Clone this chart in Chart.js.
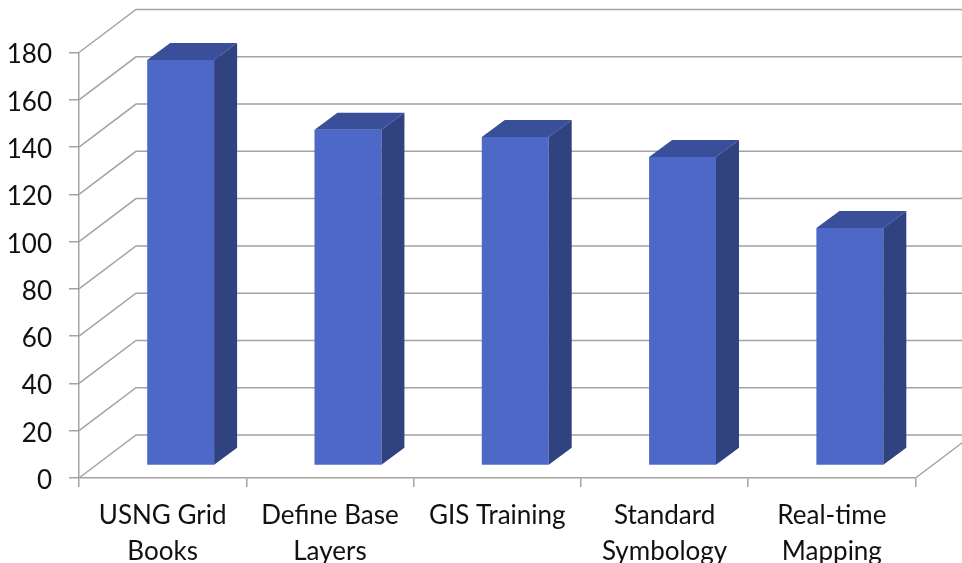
<!DOCTYPE html>
<html>
<head>
<meta charset="utf-8">
<style>
  body { margin: 0; background: #fff; }
  canvas { display: block; }
</style>
<script src="https://cdn.jsdelivr.net/npm/chart.js@4"></script>
</head>
<body>
<canvas id="chart" width="962" height="563"></canvas>
<script>
const CATEGORIES = [['USNG Grid', 'Books'], ['Define Base', 'Layers'], ['GIS Training'], ['Standard', 'Symbology'], ['Real-time', 'Mapping']];
const VALUES = [171.5, 142, 139, 130.5, 100.5];

const AXIS_COLOR = '#a3a3a3';
const FACE_COLOR = '#4d68c7';
const TOP_COLOR = '#3a4f99';
const SIDE_COLOR = '#30427f';
const TEXT_COLOR = '#111111';

// offsets for the fake 3d box: wall depth, where the bars sit on the floor, bar depth
const WALL = { x: 57, y: -43 };
const BAR_SHIFT = { x: 18, y: -12.5 };
const BAR_DEPTH = { x: 23, y: -17 };

const line = (ctx, points) => {
  ctx.beginPath();
  points.forEach((p, i) => (i ? ctx.lineTo(p[0], p[1]) : ctx.moveTo(p[0], p[1])));
  ctx.stroke();
};

const poly = (ctx, points, color) => {
  ctx.fillStyle = color;
  ctx.beginPath();
  points.forEach((p, i) => (i ? ctx.lineTo(p[0], p[1]) : ctx.moveTo(p[0], p[1])));
  ctx.closePath();
  ctx.fill();
};

const box3d = {
  id: 'box3d',
  beforeDatasetsDraw(chart) {
    const { ctx, chartArea, scales } = chart;
    ctx.save();
    ctx.strokeStyle = AXIS_COLOR;
    ctx.lineWidth = 1.5;
    // floor and wall lines follow the y axis ticks
    scales.y.ticks.forEach((tick, i) => {
      const y = scales.y.getPixelForTick(i);
      line(ctx, [
        [chartArea.left, y],
        [chartArea.left + WALL.x, y + WALL.y],
        [chartArea.right + WALL.x, y + WALL.y],
      ]);
    });
    line(ctx, [
      [chartArea.right, chartArea.bottom],
      [chartArea.right + WALL.x, chartArea.bottom + WALL.y],
    ]);
    ctx.restore();

    // bars stand a little way back on the floor
    ctx.save();
    ctx.translate(BAR_SHIFT.x, BAR_SHIFT.y);
  },
  afterDatasetsDraw(chart) {
    const { ctx } = chart;
    chart.getDatasetMeta(0).data.forEach(bar => {
      const left = bar.x - bar.width / 2;
      const right = bar.x + bar.width / 2;
      poly(ctx, [
        [left, bar.y],
        [left + BAR_DEPTH.x, bar.y + BAR_DEPTH.y],
        [right + BAR_DEPTH.x, bar.y + BAR_DEPTH.y],
        [right, bar.y],
      ], TOP_COLOR);
      poly(ctx, [
        [right, bar.y],
        [right + BAR_DEPTH.x, bar.y + BAR_DEPTH.y],
        [right + BAR_DEPTH.x, bar.base + BAR_DEPTH.y],
        [right, bar.base],
      ], SIDE_COLOR);
    });
    ctx.restore();
  },
};

new Chart(document.getElementById('chart'), {
  type: 'bar',
  data: {
    labels: CATEGORIES,
    datasets: [
      {
        data: VALUES,
        backgroundColor: FACE_COLOR,
        barPercentage: 0.4,
        categoryPercentage: 1,
        clip: false,
      },
    ],
  },
  options: {
    responsive: false,
    animation: false,
    layout: { padding: { top: 52.5, right: 46.5, left: 0, bottom: 0 } },
    plugins: {
      legend: { display: false },
      title: { display: false },
      tooltip: { enabled: false },
    },
    scales: {
      x: {
        afterFit: scale => {
          scale.height = 85;
        },
        grid: {
          offset: true,
          drawOnChartArea: false,
          color: AXIS_COLOR,
          lineWidth: 1.5,
          tickLength: 9,
        },
        border: { color: AXIS_COLOR, width: 1.5 },
        ticks: {
          color: TEXT_COLOR,
          font: { family: 'Lato', size: 26, lineHeight: 1.38 },
          padding: 11,
          maxRotation: 0,
          autoSkip: false,
        },
      },
      y: {
        min: 0,
        max: 180,
        afterFit: scale => {
          scale.width = 79;
        },
        grid: {
          drawOnChartArea: false,
          color: AXIS_COLOR,
          lineWidth: 1.5,
          tickLength: 10,
        },
        border: { color: AXIS_COLOR, width: 1.5 },
        ticks: {
          stepSize: 20,
          color: TEXT_COLOR,
          font: { family: 'Lato', size: 26, lineHeight: '5px' },
          padding: 17,
          // empty first line pushes the number a few px below the tick
          callback: value => ['', String(value)],
        },
      },
    },
  },
  plugins: [box3d],
});
</script>
</body>
</html>
